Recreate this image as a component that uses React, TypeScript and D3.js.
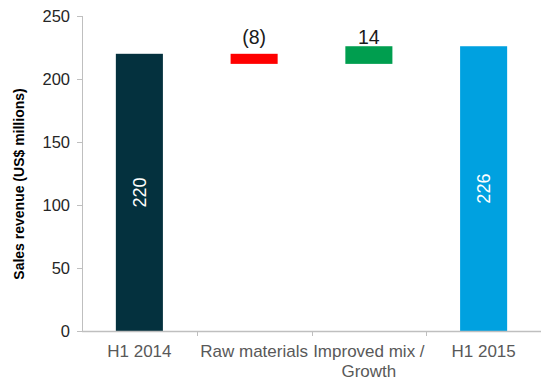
import React from "react";
import * as d3 from "d3";

const categories = ["H1 2014", "Raw materials", "Improved mix / Growth", "H1 2015"];
const categoryLines = [["H1 2014"], ["Raw materials"], ["Improved mix /", "Growth"], ["H1 2015"]];
const values = [220, -8, 14, 226];
const kinds = ["total", "delta", "delta", "total"];
const valueLabels = ["220", "(8)", "14", "226"];
const colors = ["#04313e", "#ff0000", "#009e4f", "#00a1e0"];
const yTicks = [0, 50, 100, 150, 200, 250];
const yTitle = "Sales revenue (US$ millions)";

const W = 541;
const H = 380;
const left = 82;
const right = 541;
const top = 16;
const bottom = 331;

export default function App() {
  const x = d3.scaleBand<string>().domain(categories).range([left, right]).paddingInner(0.59).paddingOuter(0.295);
  const y = d3.scaleLinear().domain([0, 250]).range([bottom, top]);
  const step = x.step();

  let running = 0;
  const bars = categories.map((c, i) => {
    let y0: number, y1: number;
    if (kinds[i] === "total") {
      y0 = 0;
      y1 = values[i];
      running = values[i];
    } else {
      y0 = running;
      y1 = running + values[i];
      running = y1;
    }
    return { c, i, lo: Math.min(y0, y1), hi: Math.max(y0, y1) };
  });
  const deltaTop = d3.max(bars.filter((b) => kinds[b.i] === "delta"), (b) => b.hi) as number;

  const font = "Arial, 'Liberation Sans', sans-serif";

  return (
    <svg width={W} height={H} style={{ position: "absolute", left: 0, top: 0 }} fontFamily={font}>
      {/* bars */}
      {bars.map((b) => (
        <rect
          key={b.c}
          x={x(b.c)}
          width={x.bandwidth()}
          y={y(b.hi)}
          height={y(b.lo) - y(b.hi)}
          fill={colors[b.i]}
        />
      ))}
      {/* labels */}
      {bars.map((b) => {
        const cx = (x(b.c) as number) + x.bandwidth() / 2;
        if (kinds[b.i] === "total") {
          const cy = y((b.lo + b.hi) / 2);
          return (
            <text
              key={"l" + b.c}
              transform={`translate(${cx},${cy}) rotate(-90)`}
              textAnchor="middle"
              dy="0.35em"
              fontSize={18}
              fill="#ffffff"
            >
              {valueLabels[b.i]}
            </text>
          );
        }
        return (
          <text key={"l" + b.c} x={cx} y={y(deltaTop) - 2} textAnchor="middle" fontSize={19.5} fill="#1a1a1a">
            {valueLabels[b.i]}
          </text>
        );
      })}
      {/* y axis */}
      <line x1={left + 0.5} x2={left + 0.5} y1={top} y2={bottom} stroke="#bfbfbf" strokeWidth={1} />
      {yTicks.map((t) => (
        <g key={t}>
          <line x1={left - 5} x2={left} y1={Math.round(y(t)) + 0.5} y2={Math.round(y(t)) + 0.5} stroke="#bfbfbf" />
          <text x={left - 12} y={y(t)} dy="0.35em" textAnchor="end" fontSize={16.5} fill="#262626">
            {t}
          </text>
        </g>
      ))}
      {/* x axis */}
      <line x1={left} x2={right} y1={bottom + 0.5} y2={bottom + 0.5} stroke="#bfbfbf" strokeWidth={1.5} />
      {categories.slice(1).map((c, i) => {
        const tx = Math.round(left + step * (i + 1)) + 0.5;
        return <line key={"t" + c} x1={tx} x2={tx} y1={bottom} y2={bottom + 5} stroke="#bfbfbf" />;
      })}
      {categories.map((c, i) => {
        const cx = (x(c) as number) + x.bandwidth() / 2;
        return (
          <text key={"x" + c} textAnchor="middle" fontSize={17} fill="#595959">
            {categoryLines[i].map((ln, k) => (
              <tspan key={k} x={cx} y={357 + k * 20}>
                {ln}
              </tspan>
            ))}
          </text>
        );
      })}
      {/* y title */}
      <text
        transform={`translate(24,184) rotate(-90)`}
        textAnchor="middle"
        fontSize={14}
        fontWeight="bold"
        fill="#000000"
      >
        {yTitle}
      </text>
    </svg>
  );
}
